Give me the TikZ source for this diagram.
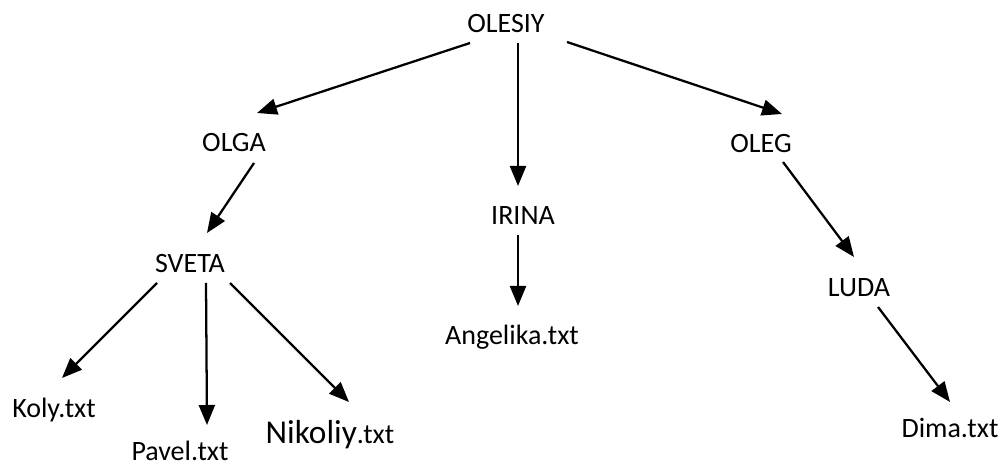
\documentclass[tikz,border=0pt]{standalone}
\usepackage{fontspec}
\setmainfont{Carlito}
\usetikzlibrary{arrows.meta}

\tikzset{
  lbl/.style={anchor=base, inner sep=0pt, font=\fontsize{21}{25}\selectfont},
  arr/.style={line width=1.7pt, -{Triangle[length=15pt, width=12pt]}}
}

\begin{document}
\begin{tikzpicture}[x=0.75pt, y=-0.75pt]

%% Frame
\useasboundingbox (0,0) rectangle (1003,466);

%% ── Folders ──────────────────────────────────────────────
\node[lbl] (olesiy) at (506,33)  {OLESIY};
\node[lbl] (olga)   at (234,152) {OLGA};
\node[lbl] (irina)  at (523,225) {IRINA};
\node[lbl] (oleg)   at (761,153) {OLEG};
\node[lbl] (sveta)  at (190,273) {SVETA};
\node[lbl] (luda)   at (859,297) {LUDA};

%% ── Files ────────────────────────────────────────────────
\node[lbl] (angelika) at (512,345) {Angelika.txt};
\node[lbl] (koly)     at (54,417)  {Koly.txt};
\node[lbl] (pavel)    at (180,460) {Pavel.txt};
\node[lbl] (nikoliy)  at (330,443) {{\fontsize{25}{30}\selectfont Nikoliy}.txt};
\node[lbl] (dima)     at (950,437) {Dima.txt};

%% ── Arrows ───────────────────────────────────────────────
\draw[arr] ([shift={(-36,10)}]olesiy.base) -- ([shift={(23,-39)}]olga.base);
\draw[arr] ([shift={(12,10)}]olesiy.base)  -- ([shift={(-5,-39)}]irina.base);
\draw[arr] ([shift={(61,9)}]olesiy.base)   -- ([shift={(21,-39)}]oleg.base);

\draw[arr] ([shift={(20,11)}]olga.base)  -- ([shift={(17,-40)}]sveta.base);
\draw[arr] ([shift={(-5,10)}]irina.base) -- ([shift={(6,-39)}]angelika.base);
\draw[arr] ([shift={(22,9)}]oleg.base)   -- ([shift={(-5,-40)}]luda.base);

\draw[arr] ([shift={(-33,10)}]sveta.base) -- ([shift={(8,-39)}]koly.base);
\draw[arr] ([shift={(16,10)}]sveta.base)  -- ([shift={(27,-35)}]pavel.base);
\draw[arr] ([shift={(40,10)}]sveta.base)  -- ([shift={(19,-41)}]nikoliy.base);
\draw[arr] ([shift={(19,10)}]luda.base)   -- ([shift={(0,-35)}]dima.base);

\end{tikzpicture}
\end{document}
